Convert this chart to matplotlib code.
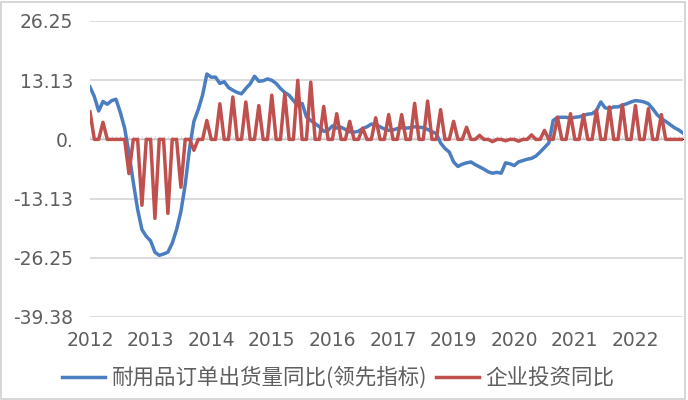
import numpy as np
import matplotlib
matplotlib.use("Agg")
import matplotlib.pyplot as plt
from matplotlib.patches import Rectangle

plt.rcParams['font.family'] = ['Noto Sans CJK SC', 'DejaVu Sans']

# 耐用品订单出货量同比(领先指标), monthly points
durable_yoy = [
    11.6, 9.5, 6.3, 8.4, 7.8, 8.6, 8.9, 6.0, 2.5, -3.0, -9.5, -15.5,
    -20.0, -21.5, -22.5, -25.0, -25.7, -25.4, -25.0, -23.0, -20.0, -16.0, -10.0, -2.0,
    4.0, 6.6, 9.8, 14.5, 13.8, 13.8, 12.4, 12.8, 11.5, 10.9, 10.4, 10.1,
    11.3, 12.3, 14.0, 12.9, 13.0, 13.4, 13.1, 12.4, 11.3, 10.4, 9.8, 8.6,
    7.5, 8.0, 5.0, 4.2, 3.5, 2.8, 1.8, 2.0, 3.0, 2.5, 2.7, 2.2,
    1.7, 1.6, 1.8, 2.4, 2.8, 3.4, 3.3, 2.8, 2.3, 2.0, 2.1, 2.4,
    2.6, 2.5, 2.6, 2.8, 2.7, 2.6, 2.2, 1.7, 1.3, -0.8, -2.0, -2.8,
    -5.0, -6.0, -5.5, -5.2, -5.0, -5.6, -6.1, -6.6, -7.2, -7.5, -7.3, -7.5,
    -5.2, -5.4, -5.8, -5.0, -4.7, -4.4, -4.2, -3.7, -2.8, -1.8, -0.8, 4.2,
    4.9, 4.9, 4.9, 4.7, 4.9, 5.0, 5.3, 5.6, 5.7, 6.4, 8.3, 7.0,
    6.8, 7.2, 7.2, 7.6, 7.9, 8.3, 8.6, 8.5, 8.3, 7.9, 6.8, 5.5,
    4.6, 4.0, 3.3, 2.6, 2.1, 1.4,
]

# 企业投资同比 (quarterly value, zero in the months between)
invest_yoy = [
    6.1, 0, 0, 3.8, 0, 0, 0, 0, 0, -7.6, 0, 0,
    -14.6, 0, 0, -17.5, 0, 0, -16.4, 0, 0, -10.6, 0, 0,
    -2.4, 0, 0, 4.2, 0, 0, 7.9, 0, 0, 9.4, 0, 0,
    8.3, 0, 0, 7.5, 0, 0, 9.8, 0, 0, 10.1, 0, 0,
    13.1, 0, 0, 12.7, 0, 0, 7.3, 0, 0, 5.7, 0, 0,
    4.0, 0, 0, 2.5, 0, 0, 4.8, 0, 0, 5.5, 0, 0,
    5.5, 0, 0, 8.0, 0, 0, 8.5, 0, 0, 6.6, 0, 0,
    4.0, 0, 0, 2.7, 0, 0, 0.9, 0, 0, -0.5, 0, 0,
    -0.3, 0, 0, -0.4, 0, 0, 1.0, 0, 0, 2.0, 0, 0,
    4.9, 0, 0, 5.7, 0, 0, 5.5, 0, 0, 6.5, 0, 0,
    7.2, 0, 0, 7.7, 0, 0, 7.5, 0, 0, 6.8, 0, 0,
    5.5, 0, 0, 0, 0, 0,
]

year_labels = ['2012', '2013', '2014', '2015', '2016', '2017', '2019', '2020', '2021', '2022']
label_step = 14
y_ticks = [26.25, 13.125, 0.0, -13.125, -26.25, -39.375]
y_tick_labels = ['26.25', '13.13', '0.', '-13.13', '-26.25', '-39.38']

blue = '#4A7EC0'
red = '#C0504D'
grey_txt = '#5F5F5F'
grid_c = '#D9D9D9'

W, H = 688, 400
fig = plt.figure(figsize=(W / 100, H / 100), dpi=100)
ax = fig.add_axes([90 / W, (H - 317) / H, (683 - 90) / W, (317 - 21) / H])

x = np.arange(len(durable_yoy))
ax.plot(x, durable_yoy, color=blue, lw=2.5, solid_joinstyle='round',
        label='耐用品订单出货量同比(领先指标)', zorder=3)
ax.plot(x, invest_yoy, color=red, lw=2.5, solid_joinstyle='round',
        label='企业投资同比', zorder=4)

ax.set_xlim(0, len(x) - 1)
ax.set_ylim(y_ticks[-1], y_ticks[0])
ax.set_yticks(y_ticks)
ax.set_yticklabels(y_tick_labels, family='DejaVu Sans')
ax.set_xticks(np.arange(len(year_labels)) * label_step)
ax.set_xticklabels(year_labels, family='DejaVu Sans')
ax.tick_params(axis='y', length=0, pad=12, labelsize=13.5, labelcolor=grey_txt)
ax.tick_params(axis='x', length=0, pad=10, labelsize=13.5, labelcolor=grey_txt)
ax.grid(axis='y', color=grid_c, lw=1.3, zorder=0)
for s in ax.spines.values():
    s.set_visible(False)

# category axis line through zero with small tick marks
zero_pos = (0 - y_ticks[-1]) / (y_ticks[0] - y_ticks[-1])
sec = ax.secondary_xaxis(zero_pos)
sec.set_xticks(x)
sec.tick_params(length=2.5, width=0.8, color=grid_c, labelbottom=False, labeltop=False)
sec.spines['bottom'].set_color(grid_c)
sec.spines['bottom'].set_linewidth(1.3)

leg = fig.legend(loc='center', bbox_to_anchor=(338 / W, 22 / H), ncol=2, frameon=False,
                 fontsize=15.5, handlelength=2.0, handletextpad=0.3, columnspacing=0.4,
                 labelcolor=grey_txt)

fig.patches.append(Rectangle((0.002, 0.003), 0.994, 0.993, transform=fig.transFigure,
                             fill=False, edgecolor='#D0D0D0', lw=1.2))

fig.savefig('out.png', dpi=100)
